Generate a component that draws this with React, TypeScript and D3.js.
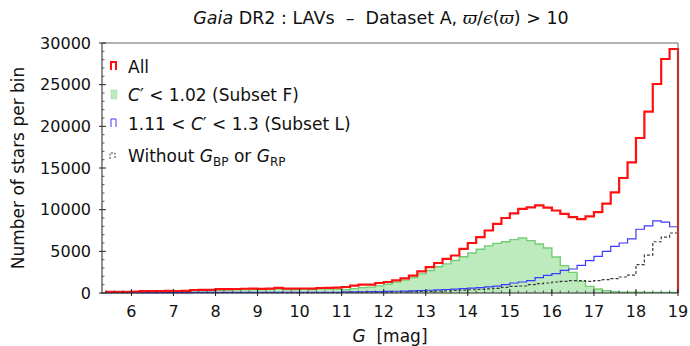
import React from 'react';
import * as d3 from 'd3';

// Histogram bins: G magnitude, 0.2 mag wide, first bin starts at 5.4, last ends at 19.0
const BIN_START = 5.4;
const BIN_WIDTH = 0.2;

// "All"
const ALL = [
  130, 140, 150, 160, 230, 240, 230, 250, 240, 260,
  360, 370, 380, 460, 470, 480, 510, 520, 500, 530,
  620, 530, 520, 540, 530, 600, 620, 650, 720, 880,
  1000, 1000, 1200, 1320, 1520, 1760, 2080, 2600, 3100, 3600,
  4100, 4500, 5300, 6000, 6700, 7500, 8300, 9000, 9550, 10100,
  10280, 10520, 10250, 9900, 9500, 9100, 8870, 9200, 9700, 10720,
  12080, 13800, 15680, 18600, 21760, 25080, 28080, 29280,
];

// "C' < 1.02 (Subset F)"
const SUBSET_F = [
  100, 110, 110, 120, 170, 180, 170, 190, 180, 190,
  280, 290, 300, 360, 370, 380, 400, 410, 400, 420,
  480, 420, 410, 430, 420, 460, 480, 480, 420, 520,
  650, 700, 850, 1050, 1300, 1550, 1850, 2300, 2700, 3150,
  3500, 3900, 4350, 4800, 5250, 5650, 5950, 6150, 6400, 6600,
  6280, 5880, 5400, 4320, 3280, 2480, 1400, 800, 480, 280,
  150, 110, 100, 90, 80, 80, 70, 70,
];

// "1.11 < C' < 1.3 (Subset L)"
const SUBSET_L = [
  50, 50, 50, 50, 50, 50, 50, 50, 50, 50,
  70, 70, 70, 70, 70, 70, 70, 70, 70, 70,
  70, 90, 90, 90, 90, 90, 90, 90, 130, 140,
  150, 160, 170, 190, 210, 230, 260, 290, 330, 370,
  420, 470, 520, 580, 650, 730, 820, 1000, 1200, 1320,
  1480, 1850, 2120, 2320, 2720, 2880, 3320, 3880, 4400, 5000,
  5600, 6000, 6500, 7650, 8050, 8650, 8500, 7950,
];

// "Without G_BP or G_RP"
const NO_BPRP = [
  40, 40, 40, 40, 40, 40, 40, 40, 40, 40,
  40, 40, 40, 40, 40, 40, 40, 40, 40, 40,
  40, 40, 40, 40, 40, 40, 40, 40, 60, 70,
  80, 90, 100, 110, 120, 140, 160, 180, 200, 230,
  260, 300, 340, 390, 440, 500, 560, 680, 800, 840,
  1000, 1120, 1200, 1320, 1400, 1480, 1480, 1400, 1480, 1600,
  1720, 1920, 2150, 3400, 4550, 6150, 6700, 7200,
];

const X_TICKS = [6, 7, 8, 9, 10, 11, 12, 13, 14, 15, 16, 17, 18, 19];
const Y_TICKS = [0, 5000, 10000, 15000, 20000, 25000, 30000];

const W = 690;
const H = 346;
const PLOT = { left: 102, right: 678, top: 43, bottom: 293 };
const FONT = 'DejaVu Sans';
const NB = '\u00a0';

type Pt = [number, number];

function stepPoints(values: number[]): Pt[] {
  const pts: Pt[] = [[BIN_START, 0]];
  values.forEach((v, i) => pts.push([BIN_START + i * BIN_WIDTH, v]));
  const end = BIN_START + values.length * BIN_WIDTH;
  pts.push([end, values[values.length - 1]]);
  pts.push([end, 0]);
  return pts;
}

export default function App() {
  const x = d3.scaleLinear().domain([5.3, 19]).range([PLOT.left, PLOT.right]);
  const y = d3.scaleLinear().domain([0, 30000]).range([PLOT.bottom, PLOT.top]);

  const line = d3
    .line<Pt>()
    .x((d) => x(d[0]))
    .y((d) => y(d[1]))
    .curve(d3.curveStepAfter);
  const area = d3
    .area<Pt>()
    .x((d) => x(d[0]))
    .y0(y(0))
    .y1((d) => y(d[1]))
    .curve(d3.curveStepAfter);

  const xMinor = d3.range(27, 95).map((k) => k * 0.2).filter((v) => v > 5.3 && v < 19);
  const yMinor = d3.range(0, 31).map((k) => k * 1000).filter((v) => v % 5000 !== 0);

  const legendX = 128;
  const legendRows = [67, 95, 124, 156];

  return (
    <svg
      width={W}
      height={H}
      style={{ position: 'absolute', left: 0, top: 0, background: '#fff' }}
      fontFamily={FONT}
    >
      {/* title */}
      <text x={381} y={24} textAnchor="middle" fontSize={17.5} fill="#111">
        <tspan fontStyle="italic">Gaia</tspan>
        <tspan>{` DR2 : LAVs${NB}${NB}–${NB}${NB}Dataset${NB}A, `}</tspan>
        <tspan fontStyle="italic" fontFamily="DejaVu Serif">ϖ</tspan>
        <tspan>/</tspan>
        <tspan fontStyle="italic" fontFamily="DejaVu Serif">ϵ</tspan>
        <tspan>(</tspan>
        <tspan fontStyle="italic" fontFamily="DejaVu Serif">ϖ</tspan>
        <tspan>{`)${NB}>${NB}10`}</tspan>
      </text>

      {/* histograms */}
      <path d={area(stepPoints(SUBSET_F)) || ''} fill="#bdebbd" stroke="none" />
      <path d={line(stepPoints(SUBSET_F)) || ''} fill="none" stroke="#74cd74" strokeWidth={1.4} />
      <path
        d={line(stepPoints(NO_BPRP)) || ''}
        fill="none"
        stroke="#3a3a3a"
        strokeWidth={1.2}
        strokeDasharray="3,2"
      />
      <path d={line(stepPoints(SUBSET_L)) || ''} fill="none" stroke="#3b3bff" strokeWidth={1.2} />
      <path d={line(stepPoints(ALL)) || ''} fill="none" stroke="#ff1010" strokeWidth={2.2} />

      {/* frame */}
      <line x1={PLOT.left} x2={PLOT.right} y1={PLOT.top} y2={PLOT.top} stroke="#666" strokeWidth={1} />
      <line x1={PLOT.right} x2={PLOT.right} y1={PLOT.top} y2={PLOT.bottom} stroke="#666" strokeWidth={1} />
      <line x1={PLOT.left} x2={PLOT.left} y1={PLOT.top} y2={PLOT.bottom + 1} stroke="#222" strokeWidth={1} />
      <line x1={PLOT.left} x2={PLOT.right} y1={PLOT.bottom} y2={PLOT.bottom} stroke="#222" strokeWidth={1} />

      {/* y ticks */}
      {yMinor.map((v) => (
        <line key={'ym' + v} x1={PLOT.left} x2={PLOT.left + 2.5} y1={y(v)} y2={y(v)} stroke="#333" strokeWidth={0.8} />
      ))}
      {Y_TICKS.map((v) => (
        <g key={'y' + v}>
          <line x1={PLOT.left - 3} x2={PLOT.left + 4} y1={y(v)} y2={y(v)} stroke="#222" strokeWidth={1} />
          <text x={PLOT.left - 11} y={y(v)} dy="0.36em" textAnchor="end" fontSize={16} fill="#111">
            {v}
          </text>
        </g>
      ))}

      {/* x ticks */}
      {xMinor.map((v) => (
        <line key={'xm' + v} x1={x(v)} x2={x(v)} y1={PLOT.bottom} y2={PLOT.bottom - 2.5} stroke="#333" strokeWidth={0.8} />
      ))}
      {X_TICKS.map((v) => (
        <g key={'x' + v}>
          <line x1={x(v)} x2={x(v)} y1={PLOT.bottom + 3} y2={PLOT.bottom - 4} stroke="#222" strokeWidth={1} />
          <text x={x(v)} y={317} textAnchor="middle" fontSize={16} fill="#111">
            {v}
          </text>
        </g>
      ))}

      {/* axis labels */}
      <text x={390} y={342} textAnchor="middle" fontSize={17} fill="#111">
        <tspan fontStyle="italic">G</tspan>
        <tspan>{`${NB}${NB}[mag]`}</tspan>
      </text>
      <text
        transform={`translate(24,${(PLOT.top + PLOT.bottom) / 2}) rotate(-90)`}
        textAnchor="middle"
        fontSize={17}
        fill="#111"
      >
        Number of stars per bin
      </text>

      {/* legend */}
      <g fontSize={17} fill="#111">
        <path
          d={`M${111},${legendRows[0] + 3}V${legendRows[0] - 5}H${116}V${legendRows[0] + 3}`}
          fill="none"
          stroke="#ff1010"
          strokeWidth={2}
        />
        <text x={legendX} y={legendRows[0]} dy="0.36em">All</text>

        <rect x={111} y={legendRows[1] - 5} width={6} height={9} fill="#bdebbd" stroke="#a5dca5" strokeWidth={0.6} />
        <text x={legendX} y={legendRows[1]} dy="0.36em">
          <tspan fontStyle="italic">C</tspan>
          <tspan>{`′${NB}<${NB}1.02 (Subset F)`}</tspan>
        </text>

        <path
          d={`M${111},${legendRows[2] + 3}V${legendRows[2] - 5}H${116}V${legendRows[2] + 3}`}
          fill="none"
          stroke="#3b3bff"
          strokeWidth={1}
        />
        <text x={legendX} y={legendRows[2]} dy="0.36em">
          <tspan>{`1.11${NB}<${NB}`}</tspan>
          <tspan fontStyle="italic">C</tspan>
          <tspan>{`′${NB}<${NB}1.3 (Subset L)`}</tspan>
        </text>

        <path
          d={`M${110},${legendRows[3] + 3}V${legendRows[3] - 3}H${115}V${legendRows[3] + 3}`}
          fill="none"
          stroke="#3a3a3a"
          strokeWidth={1}
          strokeDasharray="2,1.5"
        />
        <text x={legendX} y={legendRows[3]} dy="0.36em">
          <tspan>Without </tspan>
          <tspan fontStyle="italic">G</tspan>
          <tspan fontSize={12} dy="4">BP</tspan>
          <tspan dy="-4"> or </tspan>
          <tspan fontStyle="italic">G</tspan>
          <tspan fontSize={12} dy="4">RP</tspan>
        </text>
      </g>
    </svg>
  );
}
